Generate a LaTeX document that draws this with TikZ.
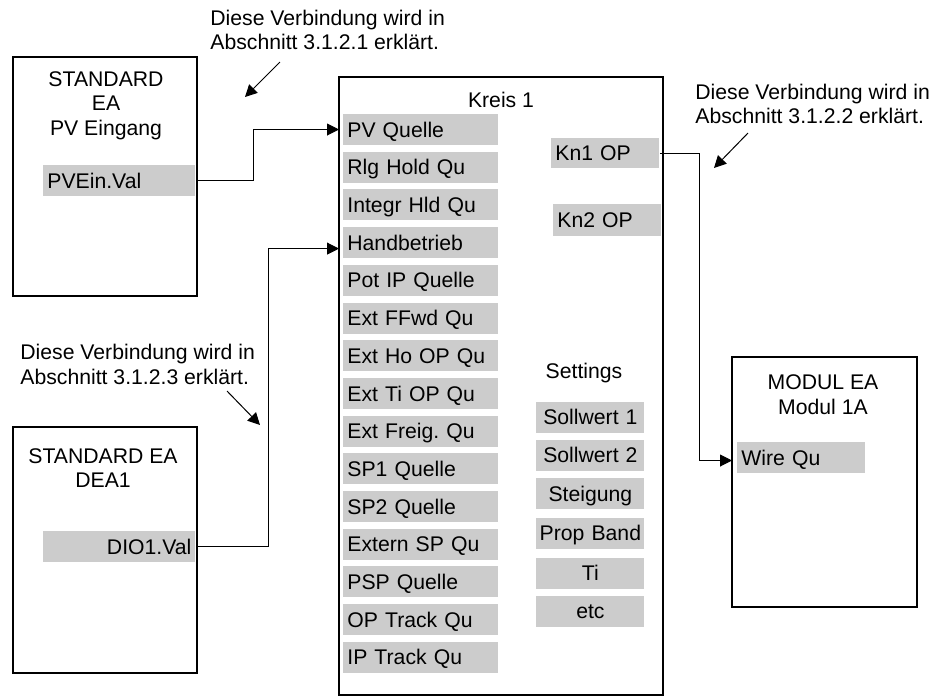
\documentclass[tikz,border=0pt]{standalone}
\usepackage{fontspec}
\setmainfont{Liberation Sans}
\usetikzlibrary{arrows.meta}

\tikzset{
  feld/.style={fill=gray!40, anchor=west, inner xsep=2pt, inner ysep=0pt, minimum height=15.5pt, text height=7.6pt, text depth=0pt, align=left},
  rahmen/.style={line width=1pt},
  verbindung/.style={line width=0.5pt, -{Triangle[length=6pt,width=6pt]}},
}

\begin{document}
\frenchspacing
\begin{tikzpicture}[x=0.5pt, y=-0.5pt, font=\fontsize{10.6}{12.2}\selectfont]
  \useasboundingbox (0,0) rectangle (949,698);
  % Rahmen
  \draw[rahmen] (13,57) rectangle (197,296);
  \draw[rahmen] (339,77) rectangle (663,695);
  \draw[rahmen] (13,427) rectangle (197,673);
  \draw[rahmen] (732,357) rectangle (917,607);
  % Titel
  \node[align=center] (titel1) at (106,105.5) {STANDARD\\EA\\PV Eingang};
  \node (kreis) at (501,100) {Kreis 1};
  \node[align=center] (titel2) at (103,468) {STANDARD EA\\DEA1};
  \node[align=center] (titel3) at (823,394.5) {MODUL EA\\Modul 1A};
  \node (settings) at (584,373) {Settings};
  % Felder
  \node[feld, text width=72pt] (pv) at (43,180.5) {PVEin.Val};
  \node[feld, text width=72pt, align=right] (dio) at (43,546.5) {DIO1.Val};
  \node[feld, text width=60pt] (wire) at (737,457.5) {Wire Qu};
  \node[feld, text width=50pt, minimum height=15pt] (kn1) at (551,153) {Kn1 OP};
  \node[feld, text width=50pt, minimum height=16pt] (kn2) at (553,220) {Kn2 OP};
  \foreach \name [count=\i] in {PV Quelle, Rlg Hold Qu, Integr Hld Qu, Handbetrieb, Pot IP Quelle, Ext FFwd Qu, Ext Ho OP Qu, Ext Ti OP Qu, Ext Freig. Qu, SP1 Quelle, SP2 Quelle, Extern SP Qu, PSP Quelle, OP Track Qu, IP Track Qu}
    \node[feld, text width=73.5pt] (q\i) at (343, 91.8+37.7*\i) {\name};
  \foreach \name/\y [count=\i] in {Sollwert 1/417, Sollwert 2/455, Steigung/493.5, Prop Band/533, Ti/573, etc/611}
    \node[feld, text width=54pt, inner xsep=0pt, align=center] (s\i) at (536,\y) {\name};
  % Verbindungen
  \draw[verbindung, shorten >=2pt] (pv.east) -- ++(58,0) |- (q1.west);
  \draw[verbindung, shorten >=2pt] (dio.east) -- ++(73,0) |- ([yshift=-3pt]q4.west);
  \draw[verbindung, shorten >=2.5pt] (kn1.east) -- ++(40,0) |- ([yshift=-1.5pt]wire.west);
  % Hinweise
  \node[anchor=west, align=left, inner sep=0pt] (hinweis1) at (210,30) {Diese Verbindung wird in\\Abschnitt 3.1.2.1 erklärt.};
  \node[anchor=west, align=left, inner sep=0pt] (hinweis2) at (695,104) {Diese Verbindung wird in\\Abschnitt 3.1.2.2 erklärt.};
  \node[anchor=west, align=left, inner sep=0pt] (hinweis3) at (20,364.5) {Diese Verbindung wird in\\Abschnitt 3.1.2.3 erklärt.};
  \coordinate (h1a) at (280,62);  \coordinate (h1b) at (245,97);
  \coordinate (h2a) at (748,133); \coordinate (h2b) at (714,168);
  \coordinate (h3a) at (227,391); \coordinate (h3b) at (260,425);
  \draw[verbindung] (h1a) -- (h1b);
  \draw[verbindung] (h2a) -- (h2b);
  \draw[verbindung] (h3a) -- (h3b);
\end{tikzpicture}
\end{document}
